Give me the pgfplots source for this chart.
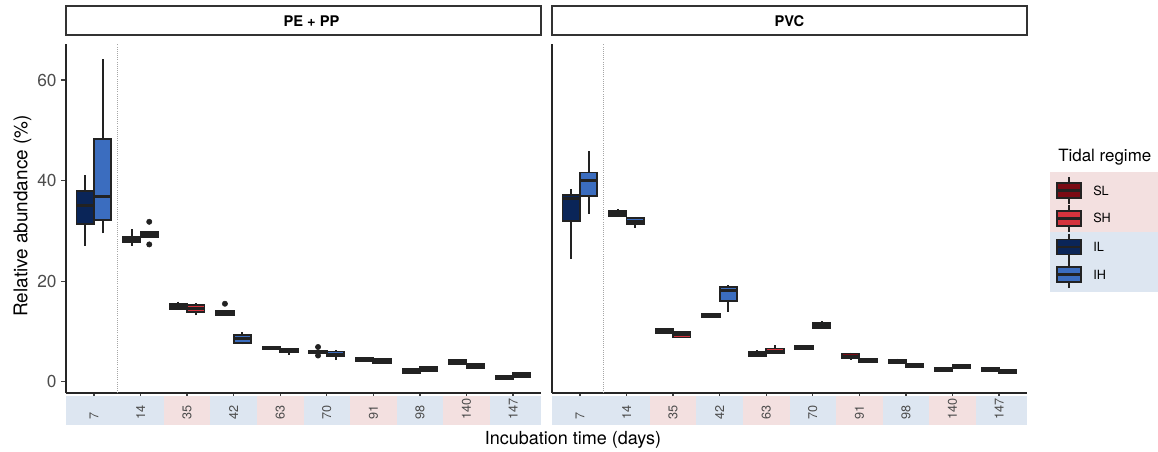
\documentclass[border=0pt]{standalone}
\usepackage{fontspec}
\setmainfont{TeX Gyre Heros}
\usepackage{pgfplots}
\pgfplotsset{compat=1.18}
\usepgfplotslibrary{statistics}

\definecolor{SL}{HTML}{7A0B14}
\definecolor{SH}{HTML}{D5333D}
\definecolor{IL}{HTML}{0A2558}
\definecolor{IH}{HTML}{3B6DBF}
\definecolor{bandP}{HTML}{F3E0E0}
\definecolor{bandB}{HTML}{DDE6F1}
\definecolor{txt}{HTML}{4D4D4D}
\definecolor{edge}{HTML}{222222}

% one box: position, lower whisker, lower quartile, median, upper quartile, upper whisker, colour
\newcommand{\bx}[7]{%
  \addplot[draw=edge, fill=#7, line width=1.4pt,
    boxplot prepared={draw position=#1, lower whisker=#2, lower quartile=#3,
      median=#4, upper quartile=#5, upper whisker=#6}]
    coordinates {};}

\newcommand{\band}[3]{\fill[#3] (axis cs:#1,-2.84) rectangle (axis cs:#2,-8.61);}
\newcommand{\lab}[2]{\node[rotate=90, anchor=west, inner sep=0pt, text=txt,
  font=\fontsize{9.5}{11}\selectfont] at (axis cs:#1,-7.6) {#2};}
\newcommand{\bands}{%
  \band{0.4}{2.5}{bandB}\band{2.5}{3.5}{bandP}\band{3.5}{4.5}{bandB}
  \band{4.5}{5.5}{bandP}\band{5.5}{6.5}{bandB}\band{6.5}{7.5}{bandP}
  \band{7.5}{8.5}{bandB}\band{8.5}{9.5}{bandP}\band{9.5}{10.6}{bandB}
  \lab{1}{7}\lab{2}{14}\lab{3}{35}\lab{4}{42}\lab{5}{63}
  \lab{6}{70}\lab{7}{91}\lab{8}{98}\lab{9}{140}\lab{10}{147}
  \draw[densely dotted, black!35, line width=0.6pt] (axis cs:1.5,-2.25) -- (axis cs:1.5,67.16);}

\newcommand{\key}[3]{%
  \draw[edge, line width=1.4pt] (1069,#1-13.5) -- (1069,#1+13.5);
  \filldraw[fill=#2, draw=edge, line width=1.4pt] (1057.3,#1-7.5) rectangle (1080.7,#1+7.5);
  \draw[edge, line width=2.2pt] (1057.3,#1) -- (1080.7,#1);
  \node[anchor=west, inner sep=0pt, font=\fontsize{9.5}{11}\selectfont] at (1093,#1) {#3};}

\pgfplotsset{
  panel/.style={
    scale only axis, width=356.25pt, height=261.75pt,
    xmin=0.4, xmax=10.6, ymin=-2.25, ymax=67.16,
    axis x line*=bottom, axis y line*=left,
    axis line style={-, line width=1pt, draw=black!85},
    xtick={1,...,10}, xticklabels={},
    ytick={0,20,40,60},
    yticklabel style={font=\fontsize{13}{15}\selectfont, text=txt},
    tick align=outside, major tick length=3.5pt,
    tick style={line width=0.9pt, black!75},
    /pgf/number format/assume math mode=true,
    clip=false,
    boxplot/draw direction=y,
    boxplot/box extend=0.375,
    boxplot/whisker extend=0,
    boxplot/every whisker/.style={line width=1.5pt, solid},
    boxplot/every median/.style={line width=2.2pt},
    title style={at={(0.5,1)}, anchor=south, yshift=0pt, draw=black!80,
      line width=1.2pt, fill=white, minimum width=356.25pt,
      minimum height=21.75pt, inner sep=0pt,
      font=\bfseries\fontsize{11}{13}\selectfont},
  }
}

\begin{document}
\begin{tikzpicture}
\useasboundingbox (0,0) rectangle (868.5pt,338.25pt);

\begin{axis}[panel, at={(49.5pt,43.5pt)}, anchor=south west,
  title={\hspace*{12pt}PE + PP}]
  \bands
  \bx{0.8125}{27.0}{31.3}{35.0}{38.0}{41.1}{IL}
  \bx{1.1875}{29.5}{32.2}{36.8}{48.2}{64.1}{IH}
  \bx{1.8125}{27.0}{27.7}{28.2}{28.8}{30.3}{IL}
  \bx{2.1875}{28.7}{28.7}{29.2}{29.8}{29.8}{IH}
  \bx{2.8125}{14.5}{14.5}{15.0}{15.5}{15.9}{SL}
  \bx{3.1875}{13.2}{13.9}{14.6}{15.3}{15.65}{SH}
  \bx{3.8125}{13.3}{13.3}{13.7}{14.1}{14.1}{IL}
  \bx{4.1875}{7.4}{7.7}{8.5}{9.35}{9.8}{IH}
  \bx{4.8125}{6.4}{6.4}{6.7}{7.0}{7.0}{SL}
  \bx{5.1875}{5.4}{5.8}{6.2}{6.6}{6.6}{SH}
  \bx{5.8125}{5.6}{5.6}{5.9}{6.2}{6.2}{IL}
  \bx{6.1875}{4.3}{5.0}{5.5}{6.0}{6.3}{IH}
  \bx{6.8125}{4.1}{4.1}{4.45}{4.8}{4.8}{SL}
  \bx{7.1875}{3.8}{3.8}{4.15}{4.5}{4.5}{SH}
  \bx{7.8125}{1.8}{1.8}{2.1}{2.45}{2.45}{IL}
  \bx{8.1875}{2.2}{2.2}{2.5}{2.85}{2.85}{IH}
  \bx{8.8125}{3.45}{3.45}{3.85}{4.25}{4.5}{SL}
  \bx{9.1875}{2.8}{2.8}{3.2}{3.6}{3.6}{SH}
  \bx{9.8125}{0.55}{0.55}{0.9}{1.2}{1.2}{IL}
  \bx{10.1875}{0.95}{0.95}{1.3}{1.65}{1.65}{IH}
  \addplot[only marks, mark=*, mark size=2pt, edge]
    coordinates {(2.1875,31.8) (2.1875,27.3) (3.8125,15.5) (5.8125,6.9) (5.8125,5.2)};
\end{axis}

\begin{axis}[panel, at={(414pt,43.5pt)}, anchor=south west,
  ytick=\empty, title={PVC}]
  \bands
  \bx{0.8125}{24.5}{31.9}{36.5}{37.1}{38.3}{IL}
  \bx{1.1875}{33.4}{36.9}{40.1}{41.6}{45.9}{IH}
  \bx{1.8125}{33.0}{33.0}{33.5}{33.95}{34.3}{IL}
  \bx{2.1875}{30.6}{31.3}{31.95}{32.6}{32.8}{IH}
  \bx{2.8125}{9.75}{9.75}{10.1}{10.4}{10.4}{SL}
  \bx{3.1875}{8.8}{8.8}{9.3}{9.8}{10.0}{SH}
  \bx{3.8125}{12.9}{12.9}{13.2}{13.5}{13.5}{IL}
  \bx{4.1875}{13.9}{16.05}{18.2}{18.9}{19.2}{IH}
  \bx{4.8125}{5.1}{5.1}{5.5}{5.9}{6.3}{SL}
  \bx{5.1875}{5.65}{5.65}{6.1}{6.6}{7.2}{SH}
  \bx{5.8125}{6.5}{6.5}{6.8}{7.15}{7.15}{IL}
  \bx{6.1875}{10.7}{10.7}{11.2}{11.6}{12.1}{IH}
  \bx{6.8125}{4.4}{4.6}{5.1}{5.6}{5.8}{SL}
  \bx{7.1875}{3.9}{3.9}{4.25}{4.6}{4.6}{SH}
  \bx{7.8125}{3.65}{3.65}{4.0}{4.4}{4.6}{IL}
  \bx{8.1875}{2.9}{2.9}{3.25}{3.6}{3.6}{IH}
  \bx{8.8125}{2.2}{2.2}{2.5}{2.8}{2.8}{SL}
  \bx{9.1875}{2.65}{2.65}{3.0}{3.4}{3.4}{SH}
  \bx{9.8125}{2.2}{2.2}{2.45}{2.7}{2.7}{IL}
  \bx{10.1875}{1.7}{1.7}{2.0}{2.3}{2.3}{IH}
\end{axis}

\begin{scope}[shift={(0pt,338.25pt)}, x=0.75pt, y=-0.75pt]
  \node[rotate=90, font=\fontsize{14.2}{16}\selectfont] at (22.5,216) {Relative abundance (\%)};
  \node[font=\fontsize{13.5}{16}\selectfont] at (573,440) {Incubation time (days)};
  \node[anchor=west, inner sep=0pt, font=\fontsize{12.7}{15}\selectfont] at (1058,157.5) {Tidal regime};
  \fill[bandP] (1050,172) rectangle (1158,231.5);
  \fill[bandB] (1050,231.5) rectangle (1158,292);
  \key{190.8}{SL}{SL}
  \key{218.3}{SH}{SH}
  \key{247}{IL}{IL}
  \key{274.8}{IH}{IH}
\end{scope}
\end{tikzpicture}
\end{document}
